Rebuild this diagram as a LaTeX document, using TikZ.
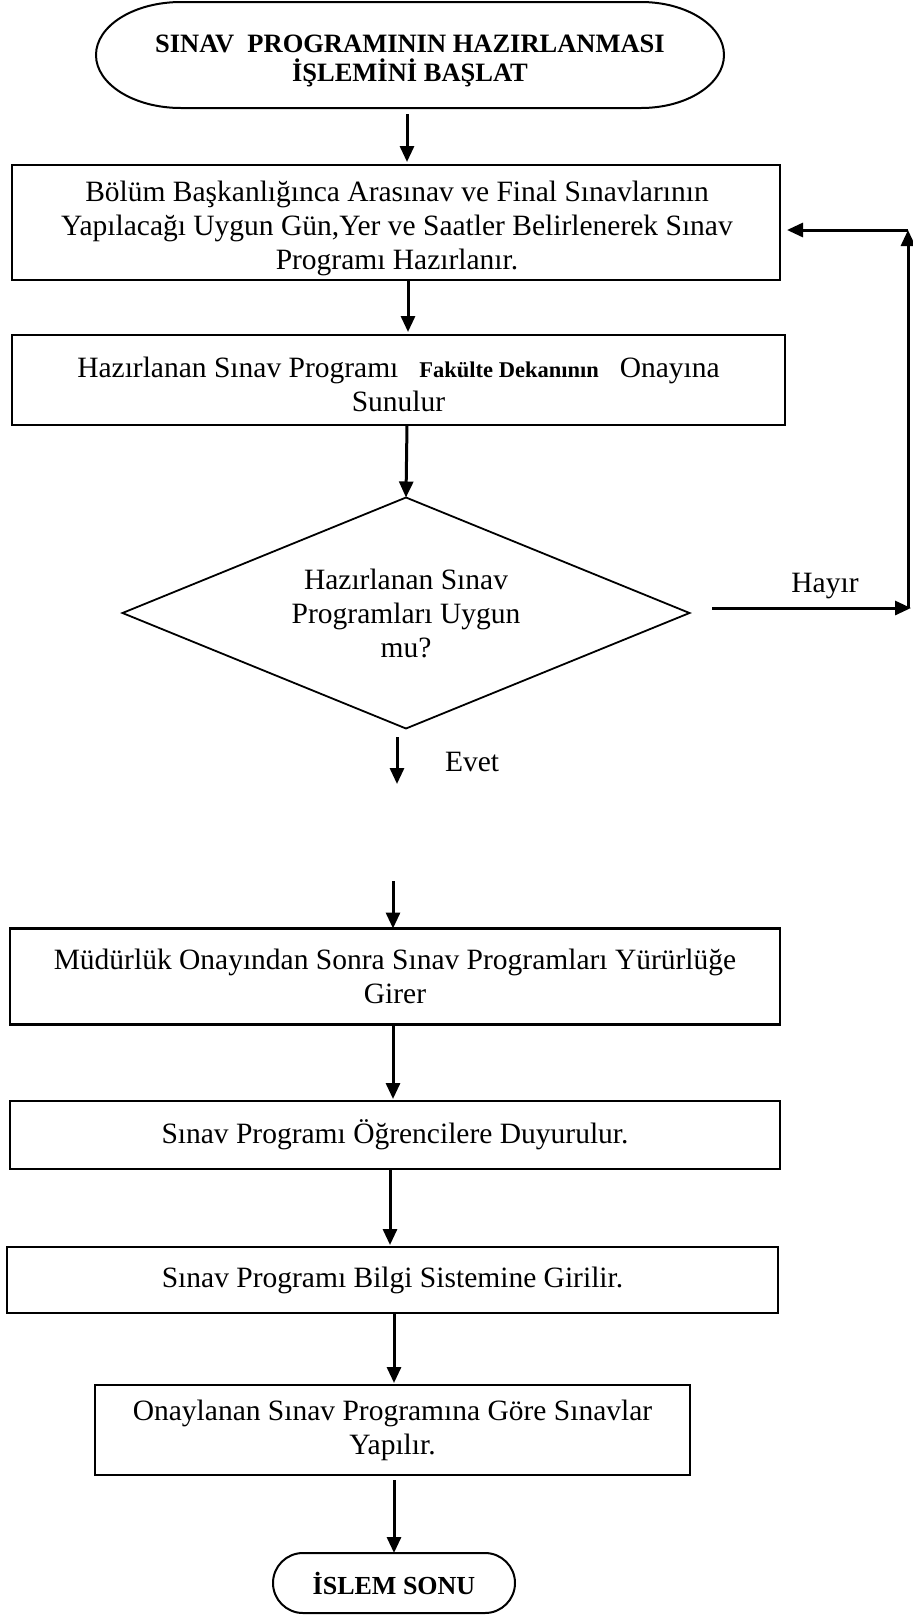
\documentclass[tikz,border=0pt]{standalone}
\usepackage{fontspec}
\setmainfont{Liberation Serif}
\usetikzlibrary{arrows.meta,shapes.geometric,shapes.misc,calc}

\begin{document}
\begin{tikzpicture}[x=1pt,y=1pt,
  every node/.style={inner sep=0pt, outer sep=0pt},
  body/.style={font=\fontsize{29.5}{34}\selectfont, align=center},
  procbox/.style={body, draw, rectangle, line width=2.6pt},
  arr/.style={line width=3pt, -{Triangle[length=16pt,width=14pt]}},
]
\fill[white] (0,0) rectangle (913,-1615);
\useasboundingbox (0,0) rectangle (913,-1615);

% start terminal: outline with elliptic ends, text set slightly low
\node[minimum width=628pt, minimum height=106pt] (start) at (410,-55) {};
\node[align=center, font=\bfseries\fontsize{26.5}{29}\selectfont] (startt) at (410,-61)
  {SINAV\ \ PROGRAMININ HAZIRLANMASI\\İŞLEMİNİ BAŞLAT};
\draw[line width=2pt]
  ([xshift=85pt]start.north west) -- ([xshift=-83pt]start.north east)
  arc[start angle=90, end angle=-90, x radius=83pt, y radius=53pt]
  -- ([xshift=85pt]start.south west)
  arc[start angle=270, end angle=90, x radius=85pt, y radius=53pt] -- cycle;

% process steps
\node[procbox, minimum width=768pt, minimum height=115pt] (b1) at (396,-222.5) {};
\node[body] (b1t) at (397,-228.5)
  {Bölüm Başkanlığınca Arasınav ve Final Sınavlarının\\
   Yapılacağı Uygun Gün,Yer ve Saatler Belirlenerek Sınav\\
   Programı Hazırlanır.};
\node[procbox, minimum width=773pt, minimum height=90pt] (b2) at (398.5,-380) {};
\node[body] (b2t) at (398.5,-384.5)
  {Hazırlanan Sınav Programı\hspace{21pt}{\bfseries\fontsize{22.5}{24}\selectfont Fakülte Dekanının}\hspace{21pt}Onayına\\
   Sunulur};
\node[diamond, draw, line width=1.8pt, body, shape aspect=2.45,
      minimum width=567pt, minimum height=231pt] (dec) at (406,-613)
  {Hazırlanan Sınav\\Programları Uygun\\mu?};
\node[procbox, minimum width=770pt, minimum height=96pt] (b3) at (395,-976.5)
  {Müdürlük Onayından Sonra Sınav Programları Yürürlüğe\\Girer};
\node[procbox, minimum width=770pt, minimum height=68pt] (b4) at (395,-1135)
  {\raisebox{2pt}{Sınav Programı Öğrencilere Duyurulur.}};
\node[procbox, minimum width=771pt, minimum height=66pt] (b5) at (392.5,-1280)
  {Sınav Programı Bilgi Sistemine Girilir.};
\node[procbox, minimum width=595pt, minimum height=90pt] (b6) at (392.5,-1430)
  {Onaylanan Sınav Programına Göre Sınavlar\\Yapılır.};

% end terminal
\node[draw, rounded rectangle, line width=2pt, minimum width=242pt, minimum height=60pt,
      font=\bfseries\fontsize{26}{29}\selectfont] (finish) at (394,-1583) {İSLEM SONU};

% branch labels
\node[body, anchor=west] (evet) at (445,-762) {Evet};
\node[body] (hayir) at (825,-586) {Hayır};

% free ends of the split and loop connectors
\coordinate (evA) at (397,-737);
\coordinate (evB) at (397,-784);
\coordinate (evC) at (393,-881);
\coordinate (hayA) at (712,-608);
\coordinate (hayB) at (911,-608);
\coordinate (loopB) at (908,-608);
\coordinate (loopT) at (908,-230);

% main flow
\draw[arr] ([shift={(-3,-6)}]start.south) -- ([shift={(-3,3)}]start.south |- b1.north);
\draw[arr] ([xshift=12pt]b1.south) -- ([xshift=12pt,yshift=3pt]b1.south |- b2.north);
\draw[arr] ([xshift=1pt]b2.south -| dec.north) -- (dec.north);
\draw[arr] (evA) -- (evB);
\draw[arr] (evC) -- (evC |- b3.north);
\draw[arr] ([xshift=-2pt]b3.south) -- ([xshift=-2pt,yshift=2pt]b3.south |- b4.north);
\draw[arr] ([xshift=-5pt]b4.south) -- ([xshift=-5pt,yshift=2pt]b4.south |- b5.north);
\draw[arr] ([xshift=1.5pt]b5.south) -- ([xshift=1.5pt,yshift=2pt]b5.south |- b6.north);
\draw[arr] ([xshift=1.5pt,yshift=-5pt]b6.south) -- ([xshift=1.5pt]b6.south |- finish.north);

% "Hayır" return loop
\draw[arr] (hayA) -- (hayB);
\draw[line width=3pt, -{Triangle[length=16pt,width=14pt]}] (loopB) -- (loopT);
\draw[arr] (loopT) -- ([xshift=7pt]loopT -| b1.east);
\end{tikzpicture}
\end{document}
